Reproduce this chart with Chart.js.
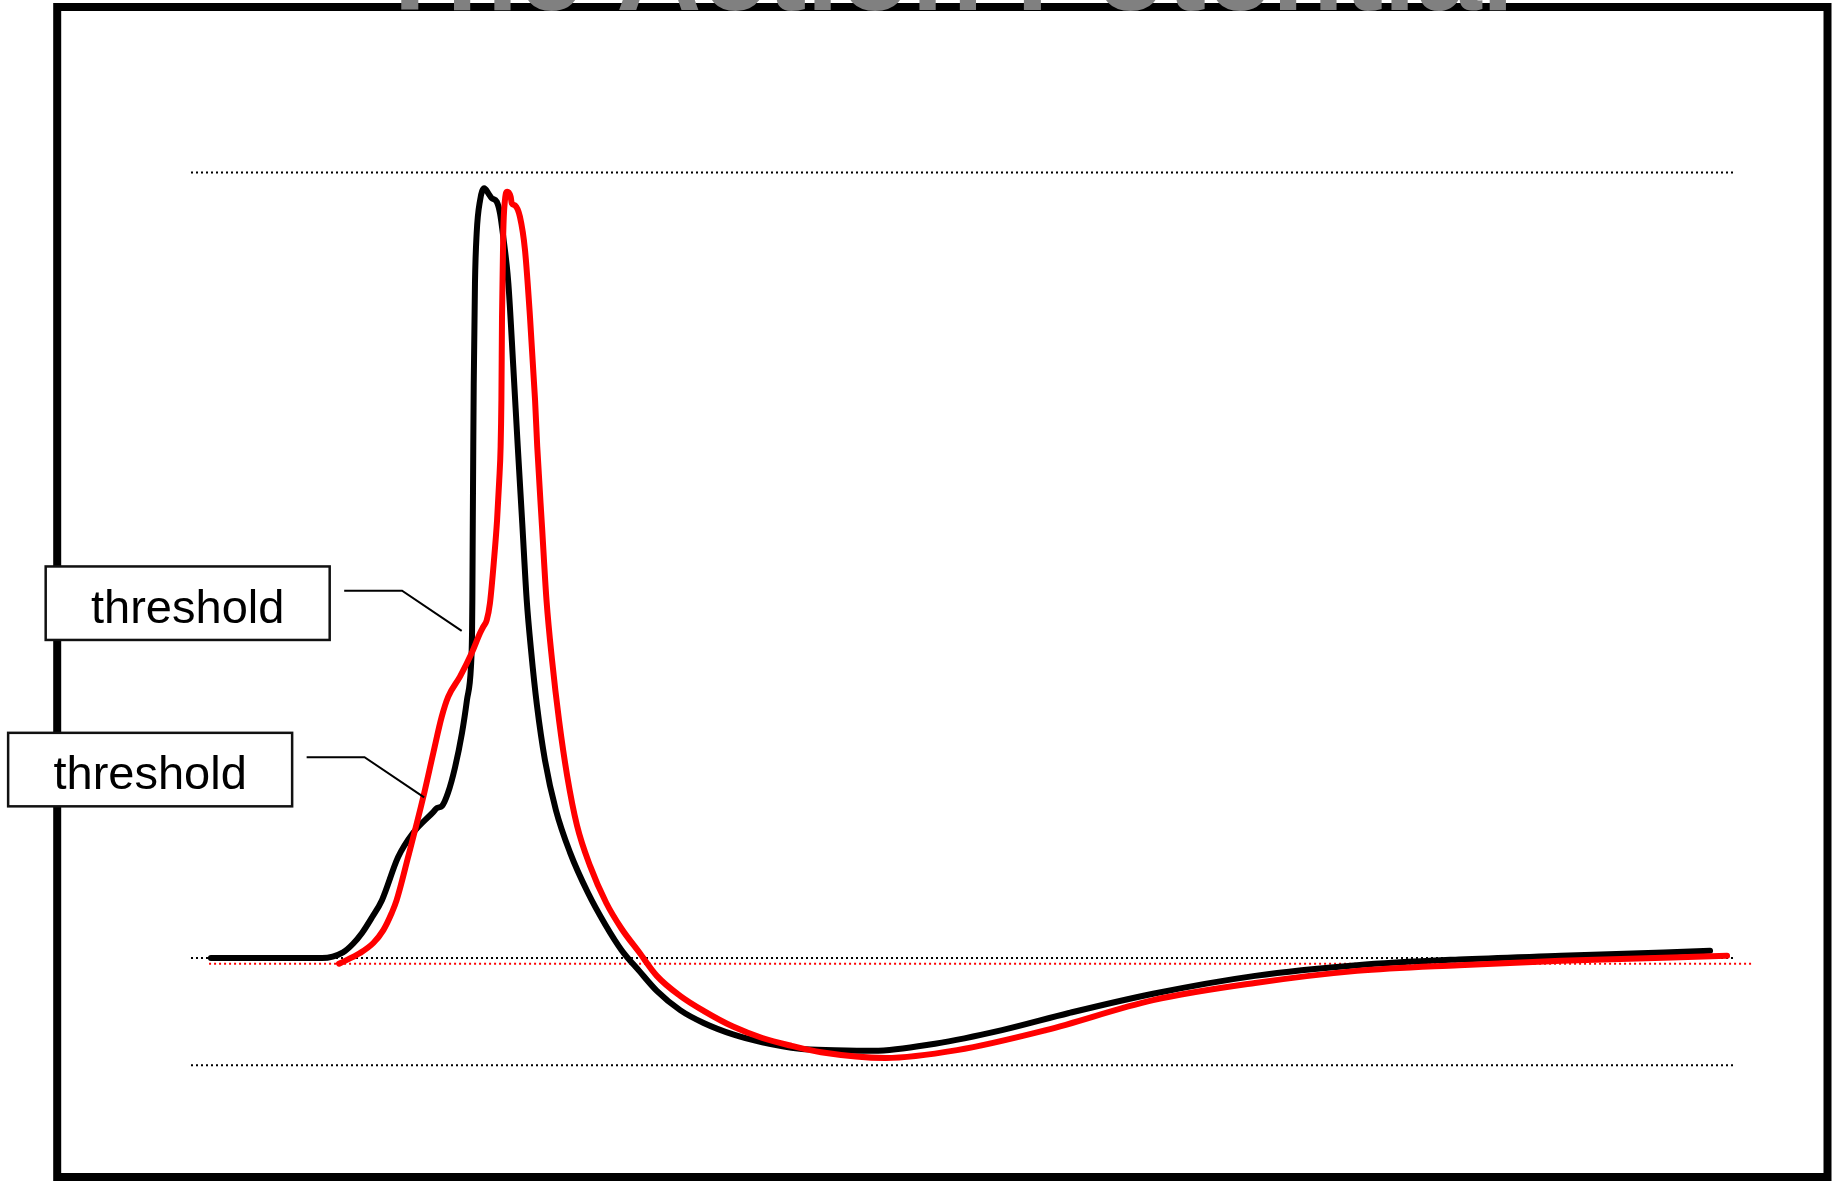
<!DOCTYPE html>
<html><head><meta charset="utf-8">
<script src="https://cdn.jsdelivr.net/npm/chart.js@4.4.1/dist/chart.umd.min.js"></script>
<style>html,body{margin:0;padding:0;background:#fff;overflow:hidden}canvas{display:block}</style>
</head><body>
<canvas id="c" width="1839" height="1181"></canvas>
<script>
// ---- data (time in ms, membrane potential in mV) ----
const titleText = "The Action Potential";
const labelTexts = ["threshold", "threshold"];
const labelAnchorTime = [1.752, 1.509];
const labelAnchorVoltage = [-19.2, -42.5];

const blackTime = [0.129, 0.848, 0.984, 1.049, 1.107, 1.172, 1.236, 1.340, 1.437, 1.566, 1.592, 1.625, 1.663, 1.709, 1.754, 1.786, 1.812, 1.819, 1.821, 1.824, 1.827, 1.830, 1.838, 1.849, 1.871, 1.898, 1.924, 1.946, 1.979, 2.000, 2.021, 2.054, 2.086, 2.115, 2.144, 2.173, 2.201, 2.239, 2.291, 2.362, 2.453, 2.570, 2.681, 2.787, 2.901, 3.015, 3.166, 3.318, 3.508, 3.698, 3.940, 4.168, 4.419, 4.816, 5.249, 5.683, 6.227, 6.887, 7.547, 8.207, 8.867, 9.832];
const blackVoltage = [-65.0, -65.0, -64.2, -63.0, -61.5, -59.3, -56.9, -50.9, -47.5, -44.6, -44.0, -43.7, -41.9, -38.3, -33.5, -28.9, -24.2, -19.5, -14.9, -3.7, 6.6, 15.5, 29.5, 36.5, 41.1, 42.8, 42.1, 41.4, 40.9, 39.3, 36.0, 29.5, 17.8, 6.6, -4.1, -14.9, -21.9, -29.6, -37.3, -44.3, -50.2, -55.9, -60.3, -63.9, -66.8, -69.6, -72.3, -74.1, -75.7, -76.8, -77.7, -77.9, -78.0, -77.0, -75.1, -72.7, -70.0, -67.5, -66.0, -65.2, -64.7, -64.0];

const redTime = [0.958, 1.094, 1.180, 1.245, 1.299, 1.331, 1.406, 1.504, 1.568, 1.623, 1.665, 1.741, 1.817, 1.871, 1.892, 1.914, 1.935, 1.961, 1.981, 1.995, 2.004, 2.009, 2.013, 2.021, 2.032, 2.047, 2.069, 2.076, 2.097, 2.129, 2.162, 2.194, 2.227, 2.241, 2.272, 2.301, 2.337, 2.382, 2.434, 2.498, 2.583, 2.688, 2.787, 2.901, 3.015, 3.166, 3.318, 3.508, 3.698, 3.887, 4.078, 4.495, 4.958, 5.534, 6.227, 6.887, 7.547, 8.207, 8.867, 9.942];
const redVoltage = [-65.8, -64.3, -62.9, -61.1, -58.7, -56.9, -50.8, -42.4, -36.3, -31.2, -28.4, -25.6, -22.3, -19.5, -18.6, -17.7, -15.3, -9.3, -3.7, 1.9, 6.6, 13.1, 24.8, 36.5, 41.1, 42.3, 41.6, 40.7, 40.4, 38.8, 34.1, 24.8, 13.1, 6.6, -4.6, -14.9, -23.3, -31.7, -39.4, -46.4, -52.1, -57.3, -60.9, -64.2, -67.5, -70.3, -72.4, -74.6, -76.2, -77.3, -78.2, -79.0, -77.9, -75.1, -70.9, -68.5, -66.8, -66.0, -65.4, -64.7];

const refLevels = [45, -65, -80];
const refTimeSpan = [0, 10];
const redRefLevel = -65.8;
const redRefTimeSpan = [0.117, 10.11];

// ---- build datasets ----
const toPts = (xs, ys) => xs.map((x, i) => ({x, y: ys[i]}));
const datasets = [
  {data: toPts(redTime, redVoltage), borderColor: '#ff0000', borderWidth: 6, order: 0},
  {data: toPts(blackTime, blackVoltage), borderColor: '#000000', borderWidth: 6, order: 1},
].map(d => Object.assign(d, {pointRadius: 0, cubicInterpolationMode: 'monotone', borderCapStyle: 'round', borderJoinStyle: 'round', clip: false, fill: false}));
refLevels.forEach(v => datasets.push({
  data: refTimeSpan.map(t => ({x: t, y: v})), borderColor: '#000', borderWidth: 2, borderDash: [2, 3],
  pointRadius: 0, order: 2, fill: false, clip: false
}));
datasets.push({
  data: redRefTimeSpan.map(t => ({x: t, y: redRefLevel})), borderColor: '#ff0000', borderWidth: 2, borderDash: [2, 3],
  pointRadius: 0, order: 3, fill: false, clip: false
});

const decor = {
  id: 'decor',
  beforeDraw(chart) {
    const ctx = chart.ctx; ctx.save(); ctx.fillStyle = '#fff'; ctx.fillRect(0, 0, chart.width, chart.height); ctx.restore();
  },
  afterDraw(chart) {
    const ctx = chart.ctx, xs = chart.scales.x, ys = chart.scales.y;
    ctx.save();
    // frame
    ctx.strokeStyle = '#000'; ctx.lineWidth = 8;
    ctx.strokeRect(57.2, 7, 1770.3, 1170);
    // title (cut off at the top edge)
    ctx.fillStyle = '#808080';
    ctx.font = 'bold 118px "Liberation Sans", Arial, sans-serif';
    ctx.textAlign = 'center'; ctx.textBaseline = 'alphabetic';
    ctx.fillText(titleText, 944, 9.5);
    // threshold callouts
    labelTexts.forEach((t, i) => {
      const px = xs.getPixelForValue(labelAnchorTime[i]);
      const py = ys.getPixelForValue(labelAnchorVoltage[i]);
      ctx.strokeStyle = '#000'; ctx.lineWidth = 2;
      ctx.beginPath(); ctx.moveTo(px - 117.5, py - 40.2); ctx.lineTo(px - 59.6, py - 40.2); ctx.lineTo(px, py); ctx.stroke();
      const bx = px - 416, by = py - 64.5, bw = 284, bh = 73.5;
      ctx.fillStyle = '#fff'; ctx.fillRect(bx, by, bw, bh);
      ctx.lineWidth = 2.5; ctx.strokeStyle = '#111'; ctx.strokeRect(bx, by, bw, bh);
      ctx.fillStyle = '#000'; ctx.font = '47px "Liberation Sans", Arial, sans-serif';
      ctx.textAlign = 'center'; ctx.textBaseline = 'alphabetic';
      ctx.fillText(t, bx + bw / 2, by + 56.6);
    });
    ctx.restore();
  }
};

new Chart(document.getElementById('c'), {
  type: 'line',
  data: {datasets},
  options: {
    responsive: false, animation: false, devicePixelRatio: 1,
    layout: {padding: {left: 144.65, right: 56.65, top: 101.09, bottom: 80.17}},
    plugins: {legend: {display: false}, tooltip: {enabled: false}, title: {display: false}},
    events: [],
    scales: {
      x: {type: 'linear', min: -0.3, max: 10.3, display: false},
      y: {type: 'linear', min: -85, max: 55, display: false}
    }
  },
  plugins: [decor]
});
</script>
</body></html>
